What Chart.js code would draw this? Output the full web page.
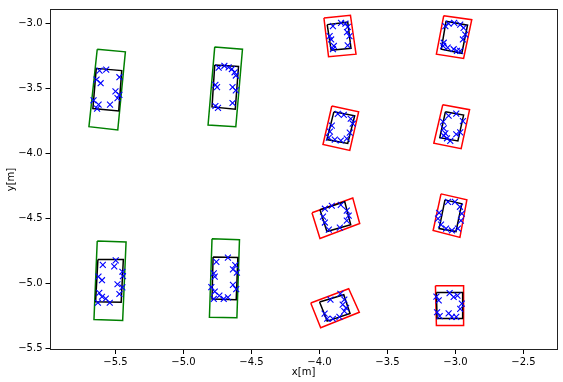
<!DOCTYPE html>
<html>
<head>
<meta charset="utf-8">
<script src="https://cdn.jsdelivr.net/npm/chart.js@4"></script>
<style>
html,body{margin:0;padding:0;background:#fff;}
#wrap{width:563px;height:382px;position:relative;}
</style>
</head>
<body>
<div id="wrap"><canvas id="c" width="563" height="382"></canvas></div>
<script>
// ---- data ----
const xTicks = [-5.5, -5.0, -4.5, -4.0, -3.5, -3.0, -2.5];
const yTicks = [-5.5, -5.0, -4.5, -4.0, -3.5, -3.0];

// outer boxes (green) - corners [x,y]
const greenBoxes = [
  [[-5.634,-3.200],[-5.427,-3.220],[-5.483,-3.820],[-5.695,-3.795]],
  [[-4.770,-3.182],[-4.566,-3.200],[-4.615,-3.795],[-4.819,-3.782]],
  [[-5.634,-4.673],[-5.422,-4.681],[-5.447,-5.283],[-5.658,-5.276]],
  [[-4.790,-4.655],[-4.588,-4.663],[-4.607,-5.263],[-4.809,-5.258]]
];
// outer boxes (red)
const redBoxes = [
  [[-3.967,-2.960],[-3.772,-2.939],[-3.731,-3.238],[-3.933,-3.258]],
  [[-3.086,-2.942],[-2.880,-2.973],[-2.940,-3.271],[-3.140,-3.238]],
  [[-3.909,-3.636],[-3.712,-3.681],[-3.777,-3.977],[-3.974,-3.932]],
  [[-3.093,-3.626],[-2.896,-3.664],[-2.958,-3.964],[-3.159,-3.922]],
  [[-4.055,-4.456],[-3.755,-4.342],[-3.704,-4.539],[-3.996,-4.653]],
  [[-3.106,-4.311],[-2.916,-4.357],[-2.967,-4.645],[-3.164,-4.592]],
  [[-4.064,-5.149],[-3.785,-5.040],[-3.707,-5.220],[-3.991,-5.339]],
  [[-3.147,-5.017],[-2.940,-5.017],[-2.940,-5.321],[-3.140,-5.321]]
];
// inner boxes (black)
const blackBoxes = [
  [[-5.641,-3.347],[-5.454,-3.364],[-5.476,-3.674],[-5.666,-3.656]],
  [[-4.770,-3.322],[-4.595,-3.332],[-4.619,-3.661],[-4.790,-3.643]],
  [[-5.629,-4.815],[-5.442,-4.815],[-5.458,-5.144],[-5.646,-5.139]],
  [[-4.782,-4.795],[-4.600,-4.800],[-4.612,-5.124],[-4.790,-5.118]],
  [[-3.943,-3.011],[-3.792,-2.992],[-3.768,-3.193],[-3.914,-3.208]],
  [[-3.069,-2.985],[-2.911,-3.015],[-2.953,-3.231],[-3.104,-3.200]],
  [[-3.894,-3.681],[-3.741,-3.711],[-3.792,-3.924],[-3.945,-3.894]],
  [[-3.074,-3.681],[-2.940,-3.706],[-2.982,-3.904],[-3.115,-3.879]],
  [[-3.996,-4.433],[-3.814,-4.372],[-3.770,-4.547],[-3.945,-4.600]],
  [[-3.077,-4.357],[-2.953,-4.387],[-2.996,-4.600],[-3.120,-4.577]],
  [[-3.999,-5.141],[-3.821,-5.086],[-3.775,-5.230],[-3.943,-5.288]],
  [[-3.140,-5.068],[-2.947,-5.068],[-2.947,-5.268],[-3.135,-5.268]]
];
// measured points (blue x)
const pointsX = [
  -5.617,-5.568,-5.471,-5.639,-5.609,-5.500,-5.471,-5.485,-5.661,-5.624,-5.540,-5.635,
  -4.741,-4.699,-4.668,-4.644,-4.624,-4.615,-4.765,-4.753,-4.639,-4.615,-4.639,-4.765,-4.746,
  -5.593,-5.498,-5.509,-5.449,-5.445,-5.625,-5.599,-5.485,-5.449,-5.471,-5.619,-5.599,-5.571,-5.542,-5.629,
  -4.758,-4.673,-4.619,-4.636,-4.607,-4.777,-4.770,-4.636,-4.612,-4.795,-4.770,-4.736,-4.704,-4.673,-4.777,
  -3.901,-3.841,-3.809,-3.792,-3.797,-3.779,-3.925,-3.914,-3.894,-3.901,-3.792,
  -3.050,-3.009,-2.965,-2.940,-2.928,-2.945,-3.086,-3.091,-3.057,-3.013,-2.989,-2.965,-3.074,
  -3.865,-3.821,-3.770,-3.755,-3.909,-3.923,-3.931,-3.887,-3.843,-3.799,-3.777,
  -3.050,-2.994,-2.945,-3.091,-3.086,-3.074,-3.086,-3.062,-3.038,-2.994,-2.965,
  -3.960,-3.909,-3.843,-3.799,-3.785,-3.799,-3.974,-3.960,-3.931,-3.850,
  -3.055,-3.004,-2.967,-2.953,-3.120,-3.128,-3.106,-3.069,-3.026,-2.982,-2.960,
  -3.919,-3.846,-3.817,-3.829,-3.804,-3.817,-3.853,-3.901,-3.943,-3.962,
  -3.123,-3.043,-3.013,-2.985,-2.953,-2.965,-3.135,-3.116,-3.050,-3.026,-2.994,-3.140
];
const pointsY = [
  -3.364,-3.357,-3.415,-3.433,-3.461,-3.524,-3.550,-3.575,-3.592,-3.626,-3.626,-3.656,
  -3.342,-3.327,-3.339,-3.352,-3.377,-3.402,-3.474,-3.491,-3.491,-3.516,-3.613,-3.636,-3.651,
  -4.856,-4.822,-4.868,-4.909,-4.942,-4.947,-4.974,-5.005,-5.029,-5.080,-5.071,-5.101,-5.116,-5.147,-5.147,
  -4.833,-4.800,-4.858,-4.891,-4.916,-4.921,-4.947,-5.010,-5.043,-5.027,-5.061,-5.093,-5.118,-5.106,-5.118,
  -3.023,-2.998,-3.003,-3.028,-3.068,-3.099,-3.099,-3.125,-3.175,-3.200,-3.170,
  -3.003,-2.998,-3.011,-3.036,-3.087,-3.125,-3.150,-3.175,-3.188,-3.200,-3.213,-3.213,-3.023,
  -3.696,-3.704,-3.734,-3.772,-3.787,-3.833,-3.879,-3.894,-3.901,-3.886,-3.841,
  -3.711,-3.694,-3.752,-3.757,-3.808,-3.846,-3.863,-3.884,-3.904,-3.853,-3.838,
  -4.425,-4.402,-4.395,-4.440,-4.478,-4.516,-4.486,-4.531,-4.585,-4.570,
  -4.372,-4.372,-4.410,-4.463,-4.456,-4.501,-4.547,-4.577,-4.592,-4.577,-4.516,
  -5.123,-5.078,-5.123,-5.161,-5.187,-5.212,-5.255,-5.270,-5.270,-5.231,
  -5.129,-5.073,-5.103,-5.093,-5.154,-5.194,-5.220,-5.250,-5.229,-5.255,-5.255,-5.100
];

// ---- build datasets ----
function closed(box){ const pts = box.map(p=>({x:p[0],y:p[1]})); pts.push({x:box[0][0],y:box[0][1]}); return pts; }
const datasets = [];
datasets.push({
  label:'points',
  data: pointsX.map((x,i)=>({x:x,y:pointsY[i]})),
  showLine:false, pointStyle:'crossRot', pointRadius:4.2, pointHoverRadius:4.2,
  borderColor:'#0000ff', backgroundColor:'#0000ff', borderWidth:1.1, order:0
});
blackBoxes.forEach(b=>datasets.push({data:closed(b),showLine:true,pointRadius:0,borderColor:'#000000',borderWidth:1.5,fill:false,order:1}));
greenBoxes.forEach(b=>datasets.push({data:closed(b),showLine:true,pointRadius:0,borderColor:'#008000',borderWidth:1.5,fill:false,order:2}));
redBoxes.forEach(b=>datasets.push({data:closed(b),showLine:true,pointRadius:0,borderColor:'#ff0000',borderWidth:1.5,fill:false,order:2}));

const fmt = v => (Math.round(v*10)/10).toFixed(1).replace('-', '\u2212');
const frame = {
  id:'frame',
  afterDraw(chart){
    const a = chart.chartArea, ctx = chart.ctx;
    ctx.save(); ctx.strokeStyle='#222'; ctx.lineWidth=1;
    ctx.strokeRect(Math.round(a.left)+0.5, Math.round(a.top)+0.5, Math.round(a.right-a.left)-1, Math.round(a.bottom-a.top)-1);
    ctx.restore();
  }
};
Chart.defaults.font.family = 'DejaVu Sans';
Chart.defaults.font.size = 10;
Chart.defaults.color = '#000';
new Chart(document.getElementById('c'), {
  type:'scatter',
  data:{datasets:datasets},
  plugins:[frame],
  options:{
    responsive:false, animation:false, devicePixelRatio:1,
    layout:{padding:{top:6,right:1,left:0,bottom:0}},
    plugins:{legend:{display:false},tooltip:{enabled:false}},
    scales:{
      x:{
        type:'linear', min:-5.985, max:-2.248,
        afterBuildTicks: ax => { ax.ticks = xTicks.map(v=>({value:v})); },
        afterFit: ax => { ax.height = 32; },
        ticks:{callback:fmt, padding:2, maxRotation:0, autoSkip:false},
        grid:{display:true, drawOnChartArea:false, tickLength:4, color:'#000'},
        border:{display:false},
        title:{display:true, text:'x[m]', padding:{top:0,bottom:4}}
      },
      y:{
        type:'linear', min:-5.51, max:-2.891,
        afterBuildTicks: ax => { ax.ticks = yTicks.map(v=>({value:v})); },
        afterFit: ax => { ax.width = 49.5; },
        ticks:{callback:fmt, padding:3, autoSkip:false},
        grid:{display:true, drawOnChartArea:false, tickLength:4, color:'#000'},
        border:{display:false},
        title:{display:true, text:'y[m]', padding:{top:5,bottom:0}}
      }
    }
  }
});
</script>
</body>
</html>
